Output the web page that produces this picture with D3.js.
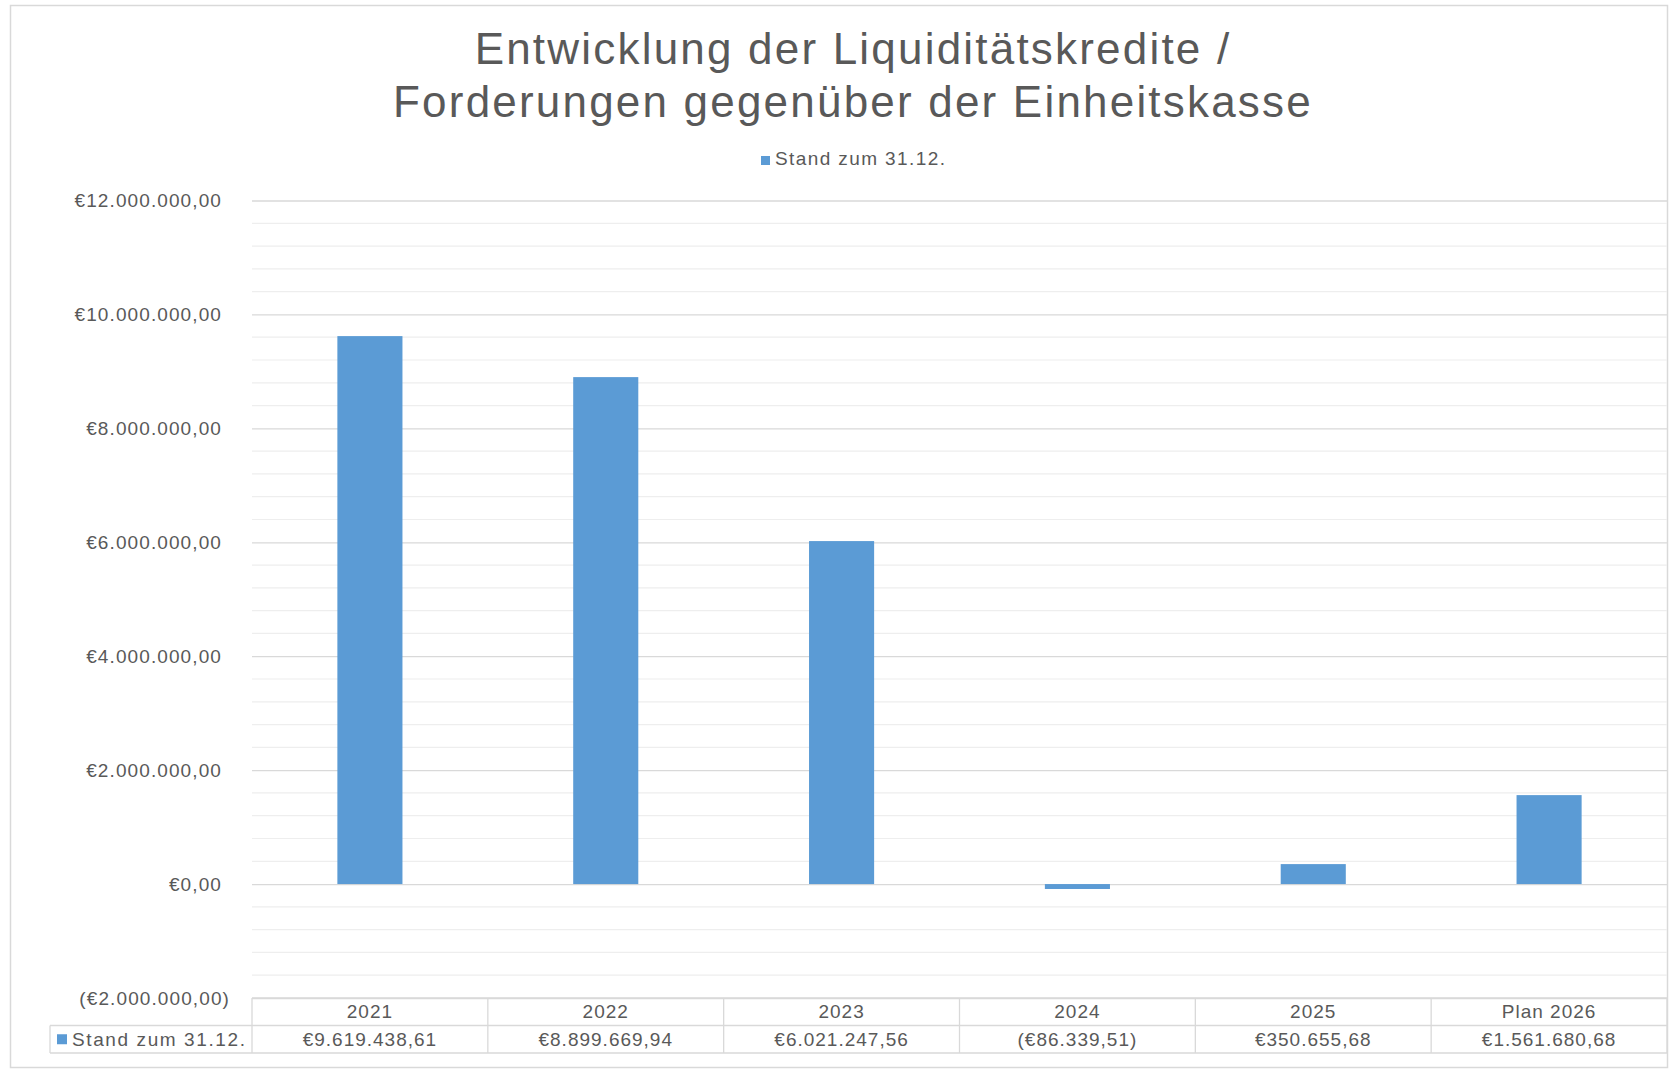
<!DOCTYPE html>
<html>
<head>
<meta charset="utf-8">
<script src="https://cdn.jsdelivr.net/npm/d3@7"></script>
<style>
  html, body { margin: 0; padding: 0; background: #fff; }
  svg { display: block; font-family: "Liberation Sans", Arial, sans-serif; }
</style>
</head>
<body>
<div id="chart"></div>
<script>
// Daten (aus dem Bild gelesen)
const categories = ['2021', '2022', '2023', '2024', '2025', 'Plan 2026'];
const values = [9619438.61, 8899669.94, 6021247.56, -86339.51, 350655.68, 1561680.68];
const seriesName = 'Stand zum 31.12.';
const titleLines = ['Entwicklung der Liquiditätskredite /', 'Forderungen gegenüber der Einheitskasse'];
const yMajorTicks = [-2000000, 0, 2000000, 4000000, 6000000, 8000000, 10000000, 12000000];
const yMinorStep = 400000;

const W = 1671, H = 1070;
const plot = { left: 252, right: 1667, top: 200.5, bottom: 998 };
const rowH = 27.5;
const textColor = '#595959';
const gridColor = '#d9d9d9';
const minorColor = '#eeeeee';
const barColor = '#5b9bd5';

const de = d3.formatLocale({ decimal: ',', thousands: '.', grouping: [3], currency: ['€', ''] });
const fmt = de.format('($,.2f');

const svg = d3.select('#chart').append('svg').attr('width', W).attr('height', H);

// Rahmen
svg.append('rect').attr('x', 10.5).attr('y', 5.5).attr('width', 1657).attr('height', 1062)
  .attr('fill', '#fff').attr('stroke', gridColor).attr('stroke-width', 1.5);

// Titel
svg.append('text').attr('x', 853).attr('y', 64).attr('text-anchor', 'middle')
  .attr('font-size', 44).attr('letter-spacing', 2.2).attr('fill', textColor)
  .selectAll('tspan').data(titleLines).enter().append('tspan')
  .attr('x', 853).attr('dy', (_, i) => i === 0 ? 0 : 53).text((d) => d);

// Legende oben
const leg = svg.append('g').attr('transform', 'translate(761,156)');
leg.append('rect').attr('width', 9).attr('height', 9).attr('fill', barColor);
leg.append('text').attr('x', 14).attr('y', 9).attr('font-size', 19).attr('letter-spacing', 1.4)
  .attr('fill', textColor).text(seriesName);

// Skalen
const y = d3.scaleLinear().domain([d3.min(yMajorTicks), d3.max(yMajorTicks)]).range([plot.bottom, plot.top]);
const xCol = d3.scaleBand().domain(categories).range([plot.left, plot.right]).padding(0);
const xBar = d3.scaleBand().domain(categories).range([plot.left, plot.right]).paddingInner(0.724).paddingOuter(0.362);

// Hilfsgitternetz
const minor = d3.range(y.domain()[0], y.domain()[1] + 1, yMinorStep).filter((v) => !yMajorTicks.includes(v));
svg.append('g').selectAll('line').data(minor).enter().append('line')
  .attr('x1', plot.left).attr('x2', plot.right).attr('y1', (d) => y(d)).attr('y2', (d) => y(d))
  .attr('stroke', minorColor).attr('stroke-width', 1.2);

// Hauptgitternetz + Achse
const yAxis = svg.append('g').attr('transform', `translate(${plot.left},0)`)
  .call(d3.axisLeft(y).tickValues(yMajorTicks).tickSize(-(plot.right - plot.left)).tickPadding(30).tickFormat(fmt));
yAxis.select('.domain').remove();
yAxis.selectAll('.tick line').attr('stroke', gridColor).attr('stroke-width', 1.3);
yAxis.selectAll('.tick text').attr('font-size', 19).attr('letter-spacing', 1.1).attr('fill', textColor)
  .attr('font-family', '"Liberation Sans", Arial, sans-serif')
  .attr('dx', (d) => d < 0 ? 8 : 0);

// Balken
svg.append('g').selectAll('rect').data(values).enter().append('rect')
  .attr('x', (_, i) => xBar(categories[i]))
  .attr('width', xBar.bandwidth())
  .attr('y', (d) => y(Math.max(0, d)))
  .attr('height', (d) => Math.abs(y(d) - y(0)))
  .attr('fill', barColor);

// Datentabelle
const t0 = y(y.domain()[0]);
const t1 = t0 + rowH, t2 = t1 + rowH;
const legLeft = 50;
const tbl = svg.append('g').attr('stroke', gridColor).attr('stroke-width', 1.3);
tbl.append('line').attr('x1', plot.left).attr('x2', plot.right).attr('y1', t0).attr('y2', t0);
tbl.append('line').attr('x1', legLeft).attr('x2', plot.right).attr('y1', t1).attr('y2', t1);
tbl.append('line').attr('x1', legLeft).attr('x2', plot.right).attr('y1', t2).attr('y2', t2);
tbl.append('line').attr('x1', legLeft).attr('x2', legLeft).attr('y1', t1).attr('y2', t2);
tbl.selectAll('line.v').data(categories.map((c) => xCol(c)).concat([plot.right])).enter().append('line')
  .attr('class', 'v').attr('x1', (d) => d).attr('x2', (d) => d).attr('y1', t0).attr('y2', t2);

svg.append('g').selectAll('text').data(categories).enter().append('text')
  .attr('x', (d) => xCol(d) + xCol.bandwidth() / 2).attr('y', (t0 + t1) / 2).attr('dy', '0.35em')
  .attr('text-anchor', 'middle').attr('font-size', 19).attr('letter-spacing', 1).attr('fill', textColor)
  .text((d) => d);
svg.append('g').selectAll('text').data(values).enter().append('text')
  .attr('x', (_, i) => xCol(categories[i]) + xCol.bandwidth() / 2).attr('y', (t1 + t2) / 2).attr('dy', '0.35em')
  .attr('text-anchor', 'middle').attr('font-size', 19).attr('letter-spacing', 1).attr('fill', textColor)
  .text((d) => fmt(d));

// Legendenschlüssel in der Tabelle
svg.append('rect').attr('x', legLeft + 7).attr('y', (t1 + t2) / 2 - 5).attr('width', 10).attr('height', 10).attr('fill', barColor);
svg.append('text').attr('x', legLeft + 22).attr('y', (t1 + t2) / 2).attr('dy', '0.35em')
  .attr('font-size', 19).attr('letter-spacing', 1.6).attr('fill', textColor).text(seriesName);
</script>
</body>
</html>
